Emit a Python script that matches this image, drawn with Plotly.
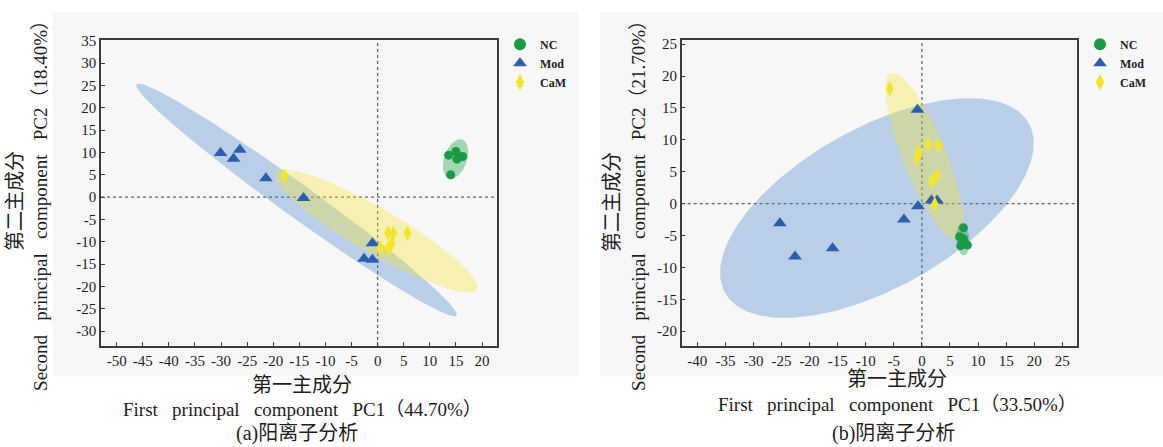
import numpy as np
import plotly.graph_objects as go

# ---------------- data ----------------
# (a) positive-ion analysis
a_nc_pc1 = [13.6, 15.0, 15.5, 16.3, 15.2, 14.0]
a_nc_pc2 = [9.4, 10.2, 9.0, 9.1, 8.5, 5.0]
a_mod_pc1 = [-30.1, -27.6, -26.4, -21.4, -14.2, -1.0, -2.6, -1.0]
a_mod_pc2 = [9.9, 8.6, 10.6, 4.2, -0.2, -10.3, -13.8, -14.0]
a_cam_pc1 = [-17.9, 2.0, 3.0, 5.7, 0.5, 2.0, 2.7]
a_cam_pc2 = [4.7, -8.1, -8.1, -8.1, -11.4, -11.6, -10.3]

# (b) negative-ion analysis
b_nc_pc1 = [7.4, 6.7, 7.4, 8.1, 6.9, 7.3]
b_nc_pc2 = [-3.8, -5.2, -5.5, -6.5, -6.6, -6.0]
b_mod_pc1 = [-25.3, -22.6, -15.9, -3.2, -0.8, -0.7, 1.7, 2.7]
b_mod_pc2 = [-3.1, -8.3, -7.0, -2.5, 14.7, -0.4, 0.5, 0.5]
b_cam_pc1 = [-5.7, 1.1, 2.9, -0.9, -0.5, 1.8, 2.7, 2.3]
b_cam_pc2 = [18.0, 9.3, 9.1, 7.2, 8.1, 3.5, 4.4, -0.1]

a_xticks = list(range(-50, 21, 5))
a_yticks = list(range(-30, 36, 5))
b_xticks = list(range(-40, 26, 5))
b_yticks = list(range(-20, 26, 5))

groups = ["NC", "Mod", "CaM"]

# ---------------- styling ----------------
W, H = 1163, 447
SERIF = "Liberation Serif, Times New Roman, Noto Sans CJK SC, serif"
TXT = "#1e1e1e"
marker_style = {
    "NC": dict(symbol="circle", size=9, color="#1a9a46"),
    "Mod": dict(symbol="triangle-up", size=12, color="#2b5fad"),
    "CaM": dict(symbol="diamond-tall", size=11, color="#f2e62a"),
}
ellipse_fill = {
    "NC": "rgba(30,160,70,0.38)",
    "Mod": "rgba(60,120,200,0.32)",
    "CaM": "rgba(245,232,40,0.33)",
}


def conf_ellipse(x, y, n=240, k=np.sqrt(5.991)):
    x = np.asarray(x, float)
    y = np.asarray(y, float)
    cov = np.cov(x, y)
    vals, vecs = np.linalg.eigh(cov)
    t = np.linspace(0, 2 * np.pi, n)
    circ = np.stack([np.cos(t), np.sin(t)])
    pts = vecs @ (np.sqrt(np.clip(vals, 0, None))[:, None] * circ) * k
    return x.mean() + pts[0], y.mean() + pts[1]


fig = go.Figure()

panels = [
    dict(xa="x", ya="y", legend="legend",
         data={"NC": (a_nc_pc1, a_nc_pc2), "Mod": (a_mod_pc1, a_mod_pc2), "CaM": (a_cam_pc1, a_cam_pc2)}),
    dict(xa="x2", ya="y2", legend="legend2",
         data={"NC": (b_nc_pc1, b_nc_pc2), "Mod": (b_mod_pc1, b_mod_pc2), "CaM": (b_cam_pc1, b_cam_pc2)}),
]

for p in panels:
    # ellipses first
    for g in ["Mod", "CaM", "NC"]:
        ex, ey = conf_ellipse(*p["data"][g])
        fig.add_trace(go.Scatter(x=ex, y=ey, mode="lines", fill="toself",
                                 fillcolor=ellipse_fill[g], line=dict(width=0),
                                 hoverinfo="skip", showlegend=False,
                                 xaxis=p["xa"], yaxis=p["ya"]))
    for rank, g in zip([2, 3, 1], ["Mod", "CaM", "NC"]):
        xs, ys = p["data"][g]
        fig.add_trace(go.Scatter(x=xs, y=ys, mode="markers", name=g,
                                 marker=dict(line=dict(width=0), **marker_style[g]),
                                 legend=p["legend"], legendrank=rank,
                                 xaxis=p["xa"], yaxis=p["ya"]))

y_dom = [1 - 344.3 / H, 1 - 33.7 / H]
axis_common = dict(showgrid=False, zeroline=False, showline=True, mirror=True,
                   linecolor="#3c3c3c", linewidth=1.5, ticks="inside", ticklen=4,
                   tickwidth=1.2, tickcolor="#3c3c3c",
                   tickfont=dict(family=SERIF, size=15, color=TXT))

def lab(vals):
    return [str(v) for v in vals]

legend_common = dict(xanchor="left", yanchor="top", bgcolor="rgba(0,0,0,0)",
                     itemsizing="constant", tracegroupgap=0,
                     font=dict(family=SERIF, size=12, color=TXT, weight="bold"))

fig.update_layout(
    width=W, height=H, margin=dict(l=0, r=0, t=0, b=0),
    paper_bgcolor="white", plot_bgcolor="white", showlegend=True,
    xaxis=dict(domain=[101 / W, 497 / W], range=[-53.0, 22.87], anchor="y",
               tickvals=a_xticks, ticktext=lab(a_xticks), **axis_common),
    yaxis=dict(domain=y_dom, range=[-33.3, 35.13], anchor="x",
               tickvals=a_yticks, ticktext=lab(a_yticks), **axis_common),
    xaxis2=dict(domain=[681.7 / W, 1077 / W], range=[-42.78, 27.62], anchor="y2",
                tickvals=b_xticks, ticktext=lab(b_xticks), **axis_common),
    yaxis2=dict(domain=y_dom, range=[-22.31, 25.62], anchor="x2",
                tickvals=b_yticks, ticktext=lab(b_yticks), **axis_common),
    legend=dict(x=500 / W, y=1 - 23 / H, **legend_common),
    legend2=dict(x=1080 / W, y=1 - 23 / H, **legend_common),
)

shapes = [
    # light grey backing of each figure panel
    dict(type="rect", xref="paper", yref="paper", x0=52 / W, x1=578 / W,
         y0=1 - 375 / H, y1=1 - 5 / H, fillcolor="#f7f7f7", line=dict(width=0), layer="below"),
    dict(type="rect", xref="paper", yref="paper", x0=600 / W, x1=1,
         y0=1 - 375 / H, y1=1 - 5 / H, fillcolor="#f7f7f7", line=dict(width=0), layer="below"),
]
for xa, ya in [("x", "y"), ("x2", "y2")]:
    shapes.append(dict(type="line", xref=xa, yref=ya + " domain", x0=0, x1=0, y0=0, y1=1,
                       line=dict(color="#666666", width=1.3, dash="dot"), layer="below"))
    shapes.append(dict(type="line", xref=xa + " domain", yref=ya, x0=0, x1=1, y0=0, y1=0,
                       line=dict(color="#666666", width=1.3, dash="dot"), layer="below"))
fig.update_layout(shapes=shapes)

sp = "\u00a0\u00a0\u00a0"
ann = []

def add_text(text, x, y, size, angle=0):
    ann.append(dict(text=text, x=x / W, y=1 - y / H, xref="paper", yref="paper",
                    xanchor="center", yanchor="middle", showarrow=False, textangle=angle,
                    font=dict(family=SERIF, size=size, color=TXT)))

# panel (a)
add_text("第一主成分", 302, 384, 20)
add_text(f"First{sp}principal{sp}component{sp}PC1（44.70%）", 302, 409, 19)
add_text("(a)阳离子分析", 297, 433, 20)
add_text("第二主成分", 15, 197, 20, -90)
add_text(f"Second{sp}principal{sp}component{sp}PC2（18.40%）", 41, 197, 19, -90)
# panel (b)
add_text("第一主成分", 897, 378, 20)
add_text(f"First{sp}principal{sp}component{sp}PC1（33.50%）", 897, 404, 19)
add_text("(b)阴离子分析", 893, 433, 20)
add_text("第二主成分", 612, 198, 20, -90)
add_text(f"Second{sp}principal{sp}component{sp}PC2（21.70%）", 639, 197, 19, -90)

fig.update_layout(annotations=ann)

fig.write_html("out.html")
